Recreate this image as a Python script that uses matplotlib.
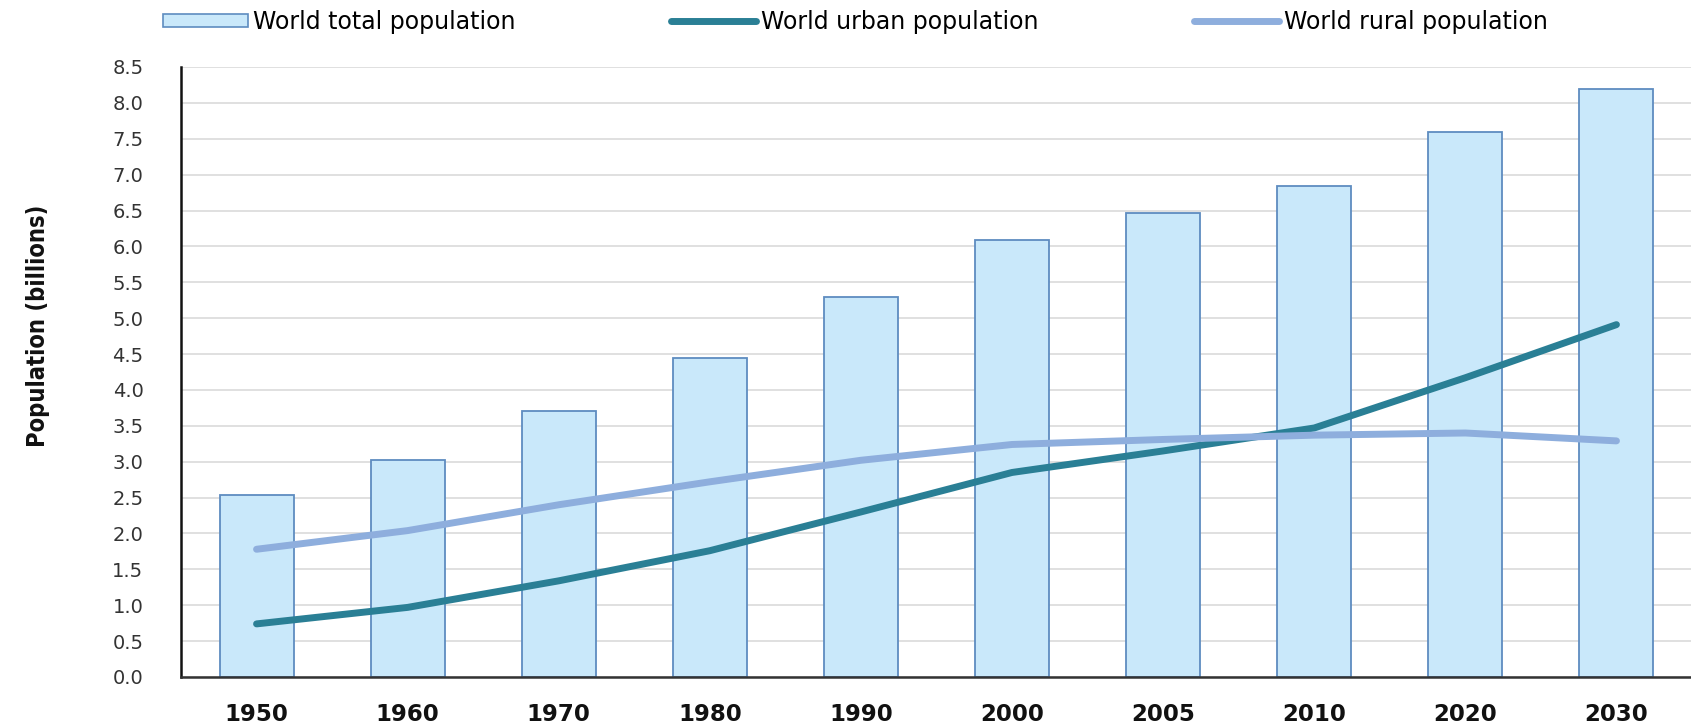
import matplotlib
matplotlib.use('Agg')
import numpy as np
import matplotlib.pyplot as plt
from matplotlib.patches import Patch
from matplotlib.lines import Line2D

matplotlib.rcParams['font.family'] = 'DejaVu Sans'

years = ['1950', '1960', '1970', '1980', '1990', '2000', '2005', '2010', '2020', '2030']
total = [2.53, 3.02, 3.70, 4.45, 5.29, 6.09, 6.46, 6.84, 7.59, 8.20]
urban = [0.74, 0.97, 1.34, 1.76, 2.30, 2.85, 3.15, 3.47, 4.17, 4.91]
rural = [1.78, 2.04, 2.40, 2.72, 3.02, 3.24, 3.31, 3.37, 3.40, 3.29]
yticks = np.arange(0, 8.51, 0.5)

bar_face = '#C9E8FA'
bar_edge = '#5E8CC0'
urban_col = '#2A7F95'
rural_col = '#8EAEDD'

fig = plt.figure(figsize=(16.91, 7.25), dpi=100)
ax = fig.add_axes([181/1691, 48/725, 1511/1691, 610/725])

x = np.arange(len(years))
ax.bar(x, total, width=0.49, color=bar_face, edgecolor=bar_edge, linewidth=1.3, zorder=2)
ax.plot(x, urban, color=urban_col, linewidth=5, solid_capstyle='round', solid_joinstyle='round', zorder=3)
ax.plot(x, rural, color=rural_col, linewidth=5, solid_capstyle='round', solid_joinstyle='round', zorder=3)

ax.set_xlim(-0.5, 9.5)
ax.set_ylim(0, 8.5)
ax.set_xticks(x)
ax.set_xticklabels(years, fontsize=16.5, fontweight='bold', color='#111111')
ax.set_yticks(yticks)
ax.set_yticklabels(['%.1f' % v for v in yticks], fontsize=14, color='#333333')
ax.tick_params(axis='x', length=0, pad=19)
ax.tick_params(axis='y', length=0, pad=27)

ax.grid(axis='y', color='#DADADA', linewidth=1.2, zorder=0)
ax.set_axisbelow(True)
for side in ['top', 'right']:
    ax.spines[side].set_visible(False)
ax.spines['left'].set_linewidth(1.8)
ax.spines['bottom'].set_linewidth(1.8)
ax.spines['left'].set_color('#111111')
ax.spines['bottom'].set_color('#333333')

fig.text(38/1691, 1 - 326/725, 'Population (billions)', rotation=90,
         ha='center', va='center', fontsize=17, fontstretch='condensed',
         fontweight='bold', family=['DejaVu Sans'], color='#111111')

handles = [Patch(facecolor=bar_face, edgecolor=bar_edge, linewidth=1.2),
           Line2D([0], [0], color=urban_col, linewidth=5, solid_capstyle='round'),
           Line2D([0], [0], color=rural_col, linewidth=5, solid_capstyle='round')]
labels = ['World total population', 'World urban population', 'World rural population']
fig.legend(handles, labels, loc='center left', bbox_to_anchor=(163/1691, 1 - 22/725),
           ncol=3, frameon=False, fontsize=17, handlelength=3.6, handleheight=0.5,
           handletextpad=0.2, columnspacing=6.6, borderpad=0, borderaxespad=0)

plt.savefig('out.png', dpi=100)
